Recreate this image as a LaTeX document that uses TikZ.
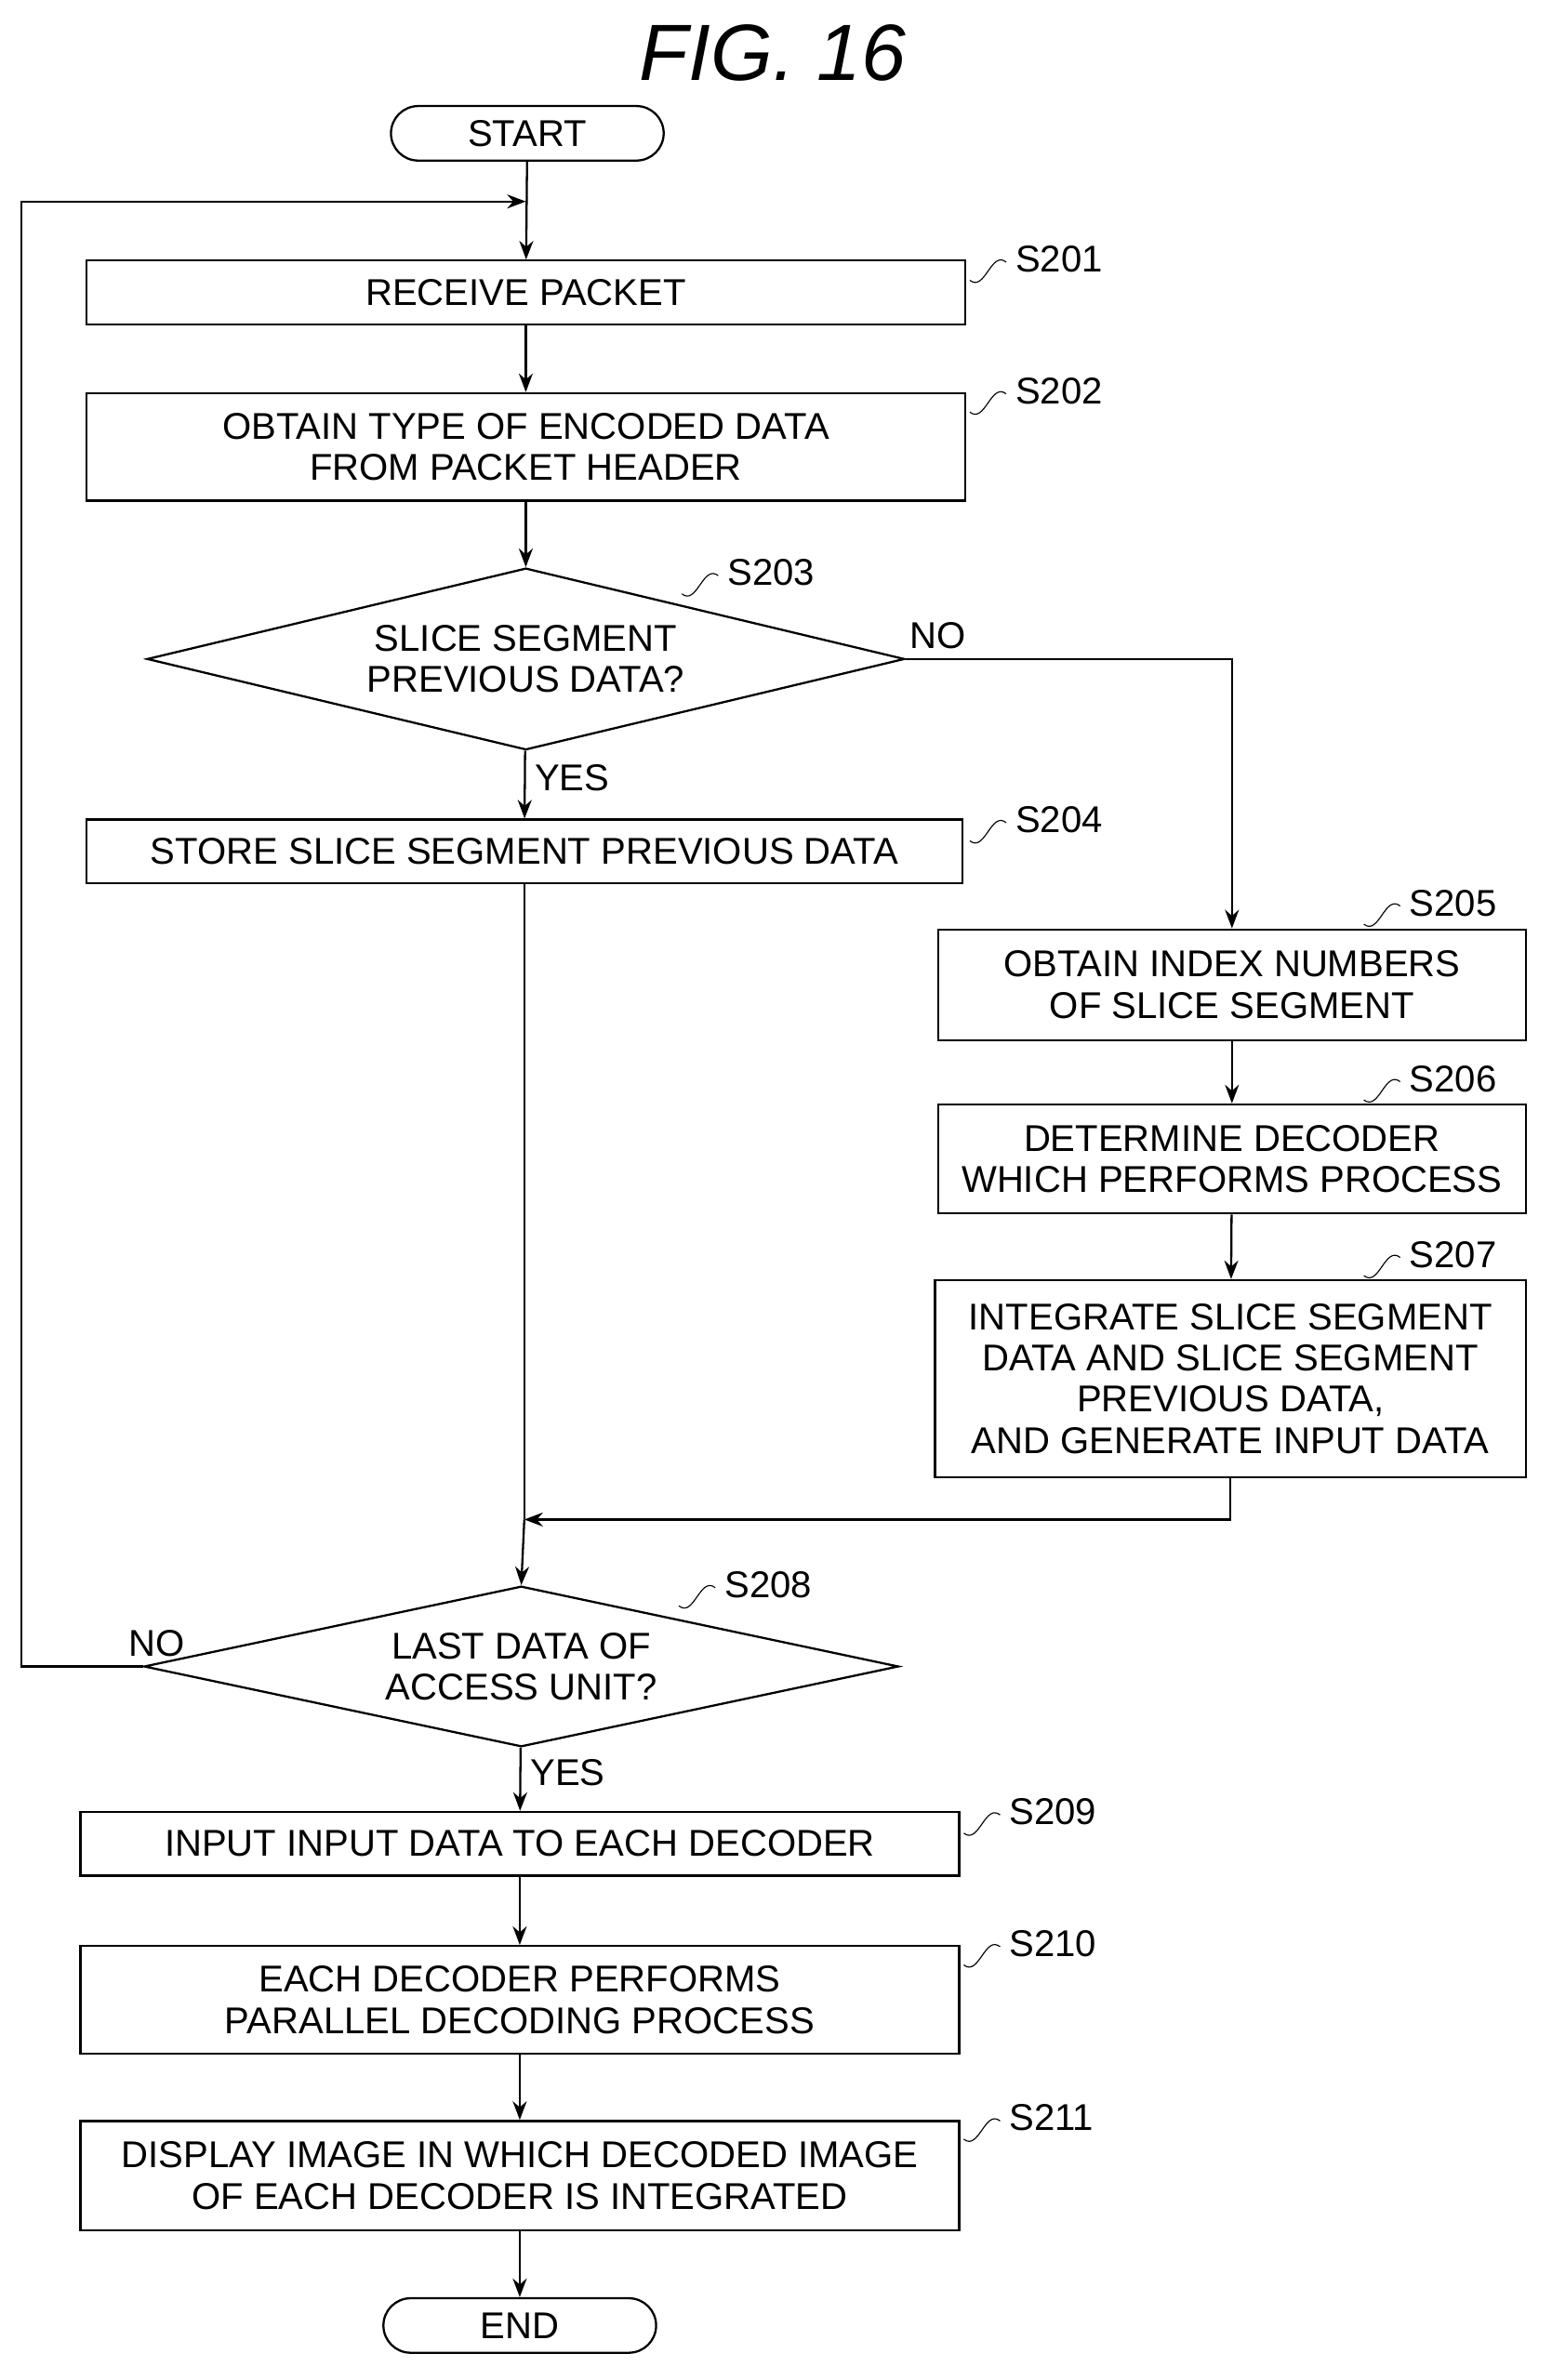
\documentclass[tikz,border=0pt]{standalone}
\usepackage{fontspec}
\setmainfont{Liberation Sans}
\usetikzlibrary{shapes.geometric,arrows.meta,calc}
\tikzset{
  procbox/.style={draw, thick, minimum height=0.84cm, align=center, inner sep=2pt, font=\fontsize{14}{15.5}\selectfont},
  term/.style={draw, thick, rounded corners=0.36cm, minimum width=3.6cm, minimum height=0.72cm, font=\fontsize{14}{15.5}\selectfont},
  test/.style={draw, thick, diamond, aspect=4.2, inner sep=0pt, align=center, font=\fontsize{14}{15.5}\selectfont},
  flow/.style={thick, -{Stealth[length=7pt]}},
  tag/.style={font=\fontsize{14}{15.5}\selectfont, anchor=west},
  lbl/.style={font=\fontsize{14}{15.5}\selectfont}
}
\newcommand{\steptag}[3]{%
  \draw[thin] (#1) .. controls +(10,8) and +(-10,-8) .. +(24,-12);
  \node[tag] (#3) at ($(#1)+(24,-14)$) {#2};}
\begin{document}
\begin{tikzpicture}[x=0.02cm, y=-0.02cm]
\useasboundingbox (0,0) rectangle (1024,1571);
\node[font=\fontsize{30}{32}\selectfont\itshape] (title) at (510,35) {FIG. 16};
\node[term] (start) at (348,88) {START};
\node[procbox, minimum width=11.6cm] (s201) at (347,193) {RECEIVE PACKET};
\node[procbox, minimum width=11.6cm, minimum height=1.42cm] (s202) at (347,295) {OBTAIN TYPE OF ENCODED DATA\\FROM PACKET HEADER};
\node[test, minimum width=10cm, minimum height=2.4cm] (s203) at (347,435) {SLICE SEGMENT\\PREVIOUS DATA?};
\node[procbox, minimum width=11.56cm] (s204) at (346,562) {STORE SLICE SEGMENT PREVIOUS DATA};
\node[procbox, minimum width=7.76cm, minimum height=1.46cm] (s205) at (813,650) {OBTAIN INDEX NUMBERS\\OF SLICE SEGMENT};
\node[procbox, minimum width=7.76cm, minimum height=1.44cm] (s206) at (813,765) {DETERMINE DECODER\\WHICH PERFORMS PROCESS};
\node[procbox, minimum width=7.8cm, minimum height=2.6cm] (s207) at (812,910) {INTEGRATE SLICE SEGMENT\\DATA AND SLICE SEGMENT\\PREVIOUS DATA,\\AND GENERATE INPUT DATA};
\node[test, minimum width=9.96cm, minimum height=2.12cm] (s208) at (344,1100) {LAST DATA OF\\ACCESS UNIT?};
\node[procbox, minimum width=11.6cm] (s209) at (343,1217) {INPUT INPUT DATA TO EACH DECODER};
\node[procbox, minimum width=11.6cm, minimum height=1.42cm] (s210) at (343,1320) {EACH DECODER PERFORMS\\PARALLEL DECODING PROCESS};
\node[procbox, minimum width=11.6cm, minimum height=1.44cm] (s211) at (343,1436) {DISPLAY IMAGE IN WHICH DECODED IMAGE\\OF EACH DECODER IS INTEGRATED};
\node[term] (end) at (343,1535) {END};
% step labels
\steptag{640,185}{S201}{t201}
\steptag{640,272}{S202}{t202}
\steptag{450,392}{S203}{t203}
\steptag{640,555}{S204}{t204}
\steptag{900,610}{S205}{t205}
\steptag{900,726}{S206}{t206}
\steptag{900,842}{S207}{t207}
\steptag{448,1060}{S208}{t208}
\steptag{636,1210}{S209}{t209}
\steptag{636,1297}{S210}{t210}
\steptag{636,1412}{S211}{t211}
% connectors
\coordinate (join) at (347,133);
\coordinate (merge) at (346,1003);
\coordinate (back) at (14,133);
\draw[flow] (start) -- (s201);
\draw[flow] (s201) -- (s202);
\draw[flow] (s202) -- (s203);
\draw[flow] (s203) -- node[lbl, right, pos=0.4] (yes1) {YES} (s204);
\draw[flow] (s203.east) -| node[lbl, above, pos=0.05] (no1) {NO} (s205.north);
\draw[flow] (s205) -- (s206);
\draw[flow] (s206) -- (s207);
\draw[thick] (s204.south) -- (merge);
\draw[flow] (s207.south) |- (merge);
\draw[flow] (merge) -- (s208.north);
\draw[flow] (s208.west) -| node[lbl, above right, pos=0.1] (no2) {NO} (back) -- (join);
\draw[flow] (s208) -- node[lbl, right, pos=0.4] (yes2) {YES} (s209);
\draw[flow] (s209) -- (s210);
\draw[flow] (s210) -- (s211);
\draw[flow] (s211) -- (end);
\end{tikzpicture}
\end{document}
